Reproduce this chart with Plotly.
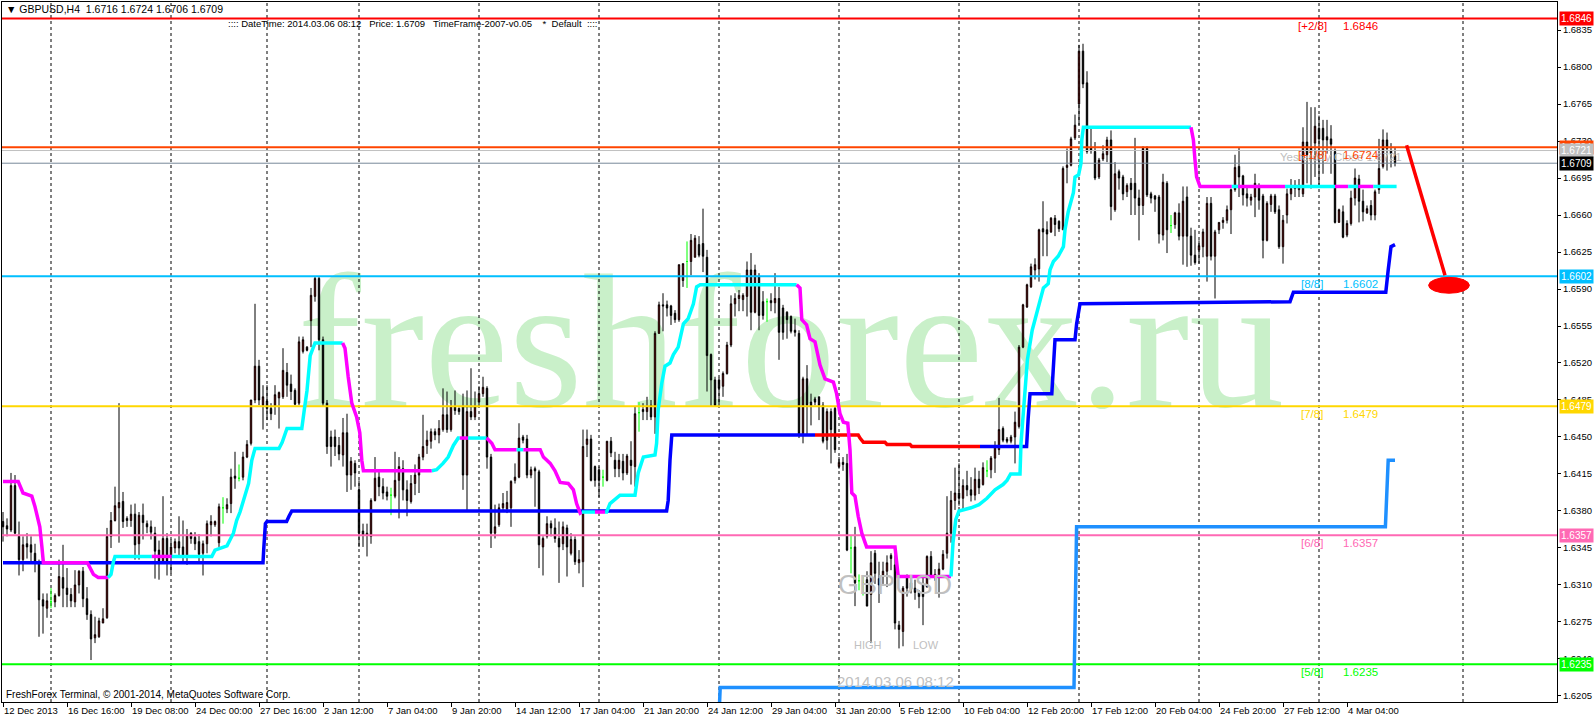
import plotly.graph_objects as go

# ---------------- DATA ----------------
opens = [
1.6370,1.6366,1.6362,1.6404,1.6356,1.6334,1.6349,1.6348,1.6340,1.6332,
1.6296,1.6288,1.6294,1.6294,1.6300,1.6317,1.6307,1.6301,1.6294,1.6310,
1.6323,1.6297,1.6282,1.6260,1.6261,1.6274,1.6279,1.6356,1.6371,1.6383,
1.6389,1.6373,1.6371,1.6377,1.6349,1.6376,1.6368,1.6365,1.6359,1.6343,
1.6332,1.6354,1.6337,1.6345,1.6351,1.6346,1.6337,1.6359,1.6355,1.6351,
1.6340,1.6349,1.6367,1.6367,1.6350,1.6383,1.6382,1.6387,1.6413,1.6411,
1.6412,1.6431,1.6444,1.6485,1.6517,1.6480,1.6484,1.6477,1.6479,1.6487,
1.6488,1.6511,1.6500,1.6494,1.6482,1.6531,1.6535,1.6560,1.6583,1.6600,
1.6542,1.6482,1.6450,1.6450,1.6442,1.6433,1.6454,1.6414,1.6425,1.6400,
1.6361,1.6357,1.6356,1.6390,1.6412,1.6403,1.6398,1.6395,1.6394,1.6409,
1.6420,1.6400,1.6389,1.6406,1.6414,1.6431,1.6442,1.6446,1.6455,1.6452,
1.6457,1.6471,1.6457,1.6479,1.6477,1.6479,1.6414,1.6474,1.6469,1.6483,
1.6491,1.6496,1.6431,1.6359,1.6367,1.6383,1.6382,1.6383,1.6409,1.6412,
1.6450,1.6448,1.6414,1.6420,1.6417,1.6346,1.6356,1.6368,1.6364,1.6354,
1.6349,1.6364,1.6340,1.6353,1.6331,1.6332,1.6443,1.6448,1.6422,1.6419,
1.6412,1.6409,1.6446,1.6428,1.6420,1.6427,1.6416,1.6428,1.6422,1.6473,
1.6476,1.6474,1.6480,1.6469,1.6548,1.6575,1.6575,1.6574,1.6567,1.6561,
1.6598,1.6616,1.6616,1.6620,1.6632,1.6633,1.6620,1.6528,1.6504,1.6504,
1.6498,1.6510,1.6537,1.6576,1.6581,1.6580,1.6583,1.6608,1.6568,1.6602,
1.6578,1.6578,1.6579,1.6577,1.6581,1.6572,1.6568,1.6564,1.6551,1.6548,
1.6453,1.6505,1.6483,1.6486,1.6488,1.6480,1.6447,1.6474,1.6477,1.6422,
1.6426,1.6425,1.6345,1.6346,1.6314,1.6312,1.6315,1.6301,1.6340,1.6316,
1.6318,1.6323,1.6338,1.6329,1.6272,1.6266,1.6318,1.6312,1.6307,1.6303,
1.6311,1.6308,1.6337,1.6318,1.6320,1.6325,1.6340,1.6359,1.6390,1.6397,
1.6392,1.6404,1.6400,1.6395,1.6410,1.6405,1.6418,1.6419,1.6430,1.6438,
1.6458,1.6448,1.6446,1.6450,1.6460,1.6535,1.6573,1.6592,1.6608,1.6609,
1.6647,1.6646,1.6644,1.6657,1.6654,1.6646,1.6705,1.6707,1.6733,1.6765,
1.6815,1.6785,1.6724,1.6720,1.6696,1.6713,1.6717,1.6731,1.6665,1.6701,
1.6696,1.6682,1.6690,1.6690,1.6676,1.6669,1.6723,1.6680,1.6678,1.6677,
1.6641,1.6690,1.6650,1.6651,1.6662,1.6640,1.6677,1.6640,1.6622,1.6627,
1.6630,1.6621,1.6671,1.6621,1.6646,1.6653,1.6655,1.6665,1.6684,1.6706,
1.6697,1.6680,1.6674,1.6677,1.6687,1.6678,1.6636,1.6670,1.6678,1.6665,
1.6630,1.6660,1.6680,1.6685,1.6684,1.6680,1.6729,1.6724,1.6728,1.6742,
1.6742,1.6734,1.6732,1.6720,1.6653,1.6663,1.6641,1.6652,1.6676,1.6694,
1.6673,1.6662,1.6669,1.6660,1.6684,1.6706,1.6731,1.6721,1.6716]

highs = [
1.6379,1.6373,1.6416,1.6414,1.6370,1.6356,1.6359,1.6356,1.6349,1.6334,
1.6302,1.6302,1.6307,1.6302,1.6334,1.6348,1.6326,1.6307,1.6324,1.6324,
1.6327,1.6308,1.6286,1.6280,1.6279,1.6288,1.6364,1.6379,1.6403,1.6482,
1.6398,1.6375,1.6386,1.6387,1.6379,1.6387,1.6371,1.6371,1.6365,1.6352,
1.6394,1.6359,1.6353,1.6354,1.6375,1.6371,1.6363,1.6360,1.6360,1.6358,
1.6352,1.6371,1.6376,1.6371,1.6387,1.6393,1.6392,1.6420,1.6436,1.6424,
1.6436,1.6447,1.6485,1.6576,1.6523,1.6499,1.6499,1.6482,1.6499,1.6493,
1.6534,1.6520,1.6509,1.6496,1.6545,1.6545,1.6536,1.6591,1.6602,1.6602,
1.6545,1.6485,1.6456,1.6457,1.6450,1.6468,1.6472,1.6431,1.6428,1.6409,
1.6368,1.6368,1.6392,1.6431,1.6419,1.6411,1.6403,1.6402,1.6436,1.6431,
1.6428,1.6409,1.6414,1.6424,1.6434,1.6471,1.6456,1.6458,1.6458,1.6466,
1.6496,1.6493,1.6485,1.6494,1.6478,1.6491,1.6494,1.6515,1.6493,1.6498,
1.6507,1.6498,1.6434,1.6386,1.6387,1.6397,1.6399,1.6409,1.6425,1.6463,
1.6452,1.6452,1.6422,1.6422,1.6419,1.6356,1.6375,1.6371,1.6373,1.6370,
1.6370,1.6367,1.6359,1.6356,1.6343,1.6457,1.6457,1.6452,1.6423,1.6422,
1.6419,1.6446,1.6450,1.6436,1.6434,1.6434,1.6434,1.6446,1.6479,1.6483,
1.6482,1.6488,1.6485,1.6550,1.6578,1.6586,1.6579,1.6575,1.6570,1.6613,
1.6614,1.6635,1.6642,1.6641,1.6640,1.6666,1.6627,1.6529,1.6507,1.6506,
1.6512,1.6540,1.6584,1.6586,1.6589,1.6586,1.6616,1.6624,1.6613,1.6605,
1.6588,1.6581,1.6586,1.6605,1.6592,1.6575,1.6569,1.6565,1.6562,1.6551,
1.6507,1.6518,1.6491,1.6488,1.6488,1.6483,1.6477,1.6477,1.6479,1.6431,
1.6431,1.6434,1.6357,1.6365,1.6320,1.6318,1.6323,1.6342,1.6343,1.6332,
1.6332,1.6338,1.6340,1.6338,1.6276,1.6309,1.6320,1.6318,1.6315,1.6305,
1.6319,1.6338,1.6342,1.6325,1.6331,1.6343,1.6394,1.6399,1.6421,1.6425,
1.6410,1.6418,1.6412,1.6421,1.6418,1.6426,1.6428,1.6432,1.6446,1.6487,
1.6460,1.6450,1.6452,1.6474,1.6537,1.6576,1.6595,1.6614,1.6619,1.6647,
1.6673,1.6654,1.6658,1.6660,1.6655,1.6706,1.6723,1.6734,1.6755,1.6821,
1.6822,1.6796,1.6742,1.6729,1.6714,1.6726,1.6734,1.6740,1.6710,1.6703,
1.6698,1.6690,1.6695,1.6733,1.6684,1.6725,1.6725,1.6682,1.6679,1.6679,
1.6699,1.6692,1.6660,1.6663,1.6671,1.6687,1.6687,1.6648,1.6646,1.6636,
1.6647,1.6677,1.6677,1.6646,1.6653,1.6658,1.6669,1.6685,1.6717,1.6724,
1.6698,1.6687,1.6680,1.6699,1.6690,1.6680,1.6673,1.6680,1.6680,1.6669,
1.6660,1.6685,1.6694,1.6693,1.6694,1.6743,1.6767,1.6762,1.6762,1.6754,
1.6750,1.6750,1.6745,1.6723,1.6666,1.6669,1.6655,1.6683,1.6704,1.6698,
1.6684,1.6669,1.6674,1.6684,1.6732,1.6741,1.6738,1.6728,1.6724]

lows = [
1.6351,1.6356,1.6360,1.6358,1.6319,1.6323,1.6335,1.6332,1.6322,1.6261,
1.6264,1.6279,1.6288,1.6289,1.6299,1.6289,1.6289,1.6289,1.6289,1.6302,
1.6289,1.6277,1.6239,1.6255,1.6260,1.6274,1.6278,1.6345,1.6370,1.6350,
1.6364,1.6365,1.6365,1.6334,1.6334,1.6353,1.6359,1.6353,1.6316,1.6315,
1.6330,1.6319,1.6321,1.6340,1.6338,1.6332,1.6329,1.6349,1.6343,1.6330,
1.6319,1.6340,1.6356,1.6365,1.6346,1.6368,1.6378,1.6378,1.6401,1.6408,
1.6409,1.6430,1.6442,1.6482,1.6480,1.6457,1.6466,1.6466,1.6471,1.6458,
1.6486,1.6488,1.6485,1.6480,1.6480,1.6529,1.6531,1.6535,1.6578,1.6532,
1.6479,1.6434,1.6422,1.6432,1.6428,1.6422,1.6398,1.6400,1.6403,1.6346,
1.6346,1.6337,1.6349,1.6389,1.6394,1.6391,1.6390,1.6376,1.6392,1.6373,
1.6390,1.6375,1.6387,1.6395,1.6397,1.6428,1.6434,1.6439,1.6447,1.6444,
1.6455,1.6454,1.6455,1.6471,1.6471,1.6400,1.6381,1.6466,1.6466,1.6479,
1.6488,1.6420,1.6345,1.6354,1.6365,1.6379,1.6378,1.6365,1.6406,1.6411,
1.6444,1.6411,1.6411,1.6384,1.6326,1.6319,1.6354,1.6356,1.6350,1.6312,
1.6343,1.6318,1.6338,1.6329,1.6321,1.6308,1.6431,1.6408,1.6403,1.6393,
1.6403,1.6408,1.6431,1.6412,1.6412,1.6409,1.6414,1.6405,1.6403,1.6455,
1.6466,1.6466,1.6466,1.6453,1.6548,1.6550,1.6564,1.6556,1.6558,1.6559,
1.6592,1.6591,1.6603,1.6620,1.6620,1.6606,1.6493,1.6479,1.6479,1.6480,
1.6488,1.6509,1.6535,1.6564,1.6569,1.6569,1.6564,1.6551,1.6567,1.6551,
1.6561,1.6559,1.6569,1.6567,1.6523,1.6542,1.6543,1.6548,1.6545,1.6449,
1.6444,1.6452,1.6461,1.6480,1.6466,1.6444,1.6438,1.6425,1.6435,1.6420,
1.6418,1.6342,1.6321,1.6290,1.6305,1.6300,1.6290,1.6255,1.6311,1.6293,
1.6311,1.6308,1.6324,1.6268,1.6250,1.6252,1.6299,1.6302,1.6296,1.6288,
1.6272,1.6308,1.6317,1.6314,1.6298,1.6324,1.6335,1.6350,1.6381,1.6385,
1.6381,1.6394,1.6389,1.6390,1.6396,1.6404,1.6412,1.6411,1.6416,1.6433,
1.6445,1.6444,1.6444,1.6425,1.6458,1.6534,1.6572,1.6591,1.6599,1.6597,
1.6621,1.6621,1.6643,1.6640,1.6644,1.6646,1.6690,1.6706,1.6731,1.6745,
1.6780,1.6718,1.6718,1.6693,1.6694,1.6711,1.6710,1.6655,1.6663,1.6684,
1.6674,1.6677,1.6660,1.6660,1.6636,1.6660,1.6677,1.6671,1.6663,1.6633,
1.6636,1.6624,1.6643,1.6647,1.6636,1.6613,1.6611,1.6612,1.6613,1.6614,
1.6620,1.6597,1.6617,1.6581,1.6642,1.6647,1.6652,1.6642,1.6682,1.6677,
1.6669,1.6668,1.6669,1.6658,1.6665,1.6619,1.6635,1.6663,1.6661,1.6628,
1.6614,1.6652,1.6674,1.6677,1.6677,1.6677,1.6690,1.6685,1.6696,1.6688,
1.6699,1.6718,1.6699,1.6652,1.6653,1.6638,1.6639,1.6650,1.6669,1.6653,
1.6654,1.6661,1.6655,1.6655,1.6680,1.6704,1.6702,1.6705,1.6706]

closes = [
1.6365,1.6363,1.6404,1.6359,1.6334,1.6348,1.6346,1.6341,1.6332,1.6296,
1.6290,1.6295,1.6294,1.6300,1.6318,1.6307,1.6301,1.6295,1.6310,1.6323,
1.6297,1.6282,1.6259,1.6263,1.6276,1.6278,1.6356,1.6371,1.6385,1.6388,
1.6370,1.6371,1.6377,1.6348,1.6376,1.6369,1.6365,1.6360,1.6342,1.6332,
1.6354,1.6332,1.6346,1.6351,1.6345,1.6337,1.6357,1.6354,1.6349,1.6339,
1.6349,1.6368,1.6370,1.6370,1.6384,1.6383,1.6386,1.6412,1.6411,1.6411,
1.6431,1.6443,1.6485,1.6517,1.6485,1.6488,1.6477,1.6472,1.6490,1.6492,
1.6513,1.6499,1.6493,1.6481,1.6540,1.6542,1.6532,1.6584,1.6600,1.6542,
1.6482,1.6441,1.6441,1.6441,1.6434,1.6454,1.6414,1.6427,1.6416,1.6359,
1.6357,1.6359,1.6390,1.6411,1.6403,1.6397,1.6394,1.6395,1.6409,1.6422,
1.6400,1.6390,1.6406,1.6414,1.6431,1.6441,1.6447,1.6455,1.6452,1.6458,
1.6471,1.6457,1.6479,1.6475,1.6474,1.6414,1.6474,1.6469,1.6479,1.6491,
1.6497,1.6431,1.6359,1.6365,1.6383,1.6387,1.6388,1.6408,1.6412,1.6449,
1.6447,1.6414,1.6419,1.6418,1.6348,1.6354,1.6368,1.6364,1.6354,1.6346,
1.6365,1.6346,1.6353,1.6332,1.6334,1.6441,1.6448,1.6409,1.6409,1.6409,
1.6412,1.6446,1.6435,1.6420,1.6428,1.6416,1.6432,1.6423,1.6472,1.6473,
1.6474,1.6479,1.6469,1.6548,1.6575,1.6574,1.6572,1.6565,1.6561,1.6613,
1.6614,1.6616,1.6636,1.6638,1.6622,1.6621,1.6527,1.6504,1.6480,1.6496,
1.6510,1.6537,1.6576,1.6581,1.6584,1.6584,1.6608,1.6568,1.6608,1.6565,
1.6565,1.6578,1.6577,1.6581,1.6549,1.6549,1.6561,1.6550,1.6549,1.6453,
1.6505,1.6480,1.6479,1.6483,1.6480,1.6446,1.6474,1.6457,1.6438,1.6426,
1.6424,1.6343,1.6345,1.6312,1.6314,1.6312,1.6290,1.6331,1.6321,1.6310,
1.6323,1.6331,1.6335,1.6274,1.6268,1.6307,1.6307,1.6306,1.6303,1.6299,
1.6299,1.6337,1.6318,1.6320,1.6325,1.6339,1.6359,1.6390,1.6397,1.6392,
1.6404,1.6400,1.6395,1.6410,1.6402,1.6421,1.6418,1.6430,1.6441,1.6457,
1.6447,1.6446,1.6450,1.6464,1.6535,1.6575,1.6594,1.6611,1.6613,1.6646,
1.6644,1.6642,1.6657,1.6651,1.6647,1.6704,1.6707,1.6732,1.6745,1.6815,
1.6784,1.6720,1.6721,1.6695,1.6712,1.6718,1.6731,1.6668,1.6699,1.6695,
1.6680,1.6688,1.6684,1.6676,1.6669,1.6723,1.6679,1.6676,1.6675,1.6642,
1.6691,1.6646,1.6650,1.6662,1.6640,1.6673,1.6640,1.6622,1.6615,1.6631,
1.6644,1.6671,1.6621,1.6644,1.6653,1.6655,1.6665,1.6684,1.6705,1.6696,
1.6679,1.6676,1.6677,1.6690,1.6674,1.6636,1.6671,1.6678,1.6663,1.6630,
1.6655,1.6680,1.6685,1.6688,1.6688,1.6729,1.6717,1.6719,1.6744,1.6732,
1.6731,1.6731,1.6727,1.6653,1.6665,1.6639,1.6652,1.6676,1.6695,1.6673,
1.6663,1.6666,1.6660,1.6682,1.6704,1.6731,1.6723,1.6718,1.6709]

x_tick_bars = [0, 16, 32, 48, 64, 80, 96, 112, 128, 144, 160, 176, 192, 208,
               224, 240, 256, 272, 288, 304, 320, 336]
x_tick_labels = ["12 Dec 2013", "16 Dec 16:00", "19 Dec 08:00", "24 Dec 00:00",
                 "27 Dec 16:00", "2 Jan 12:00", "7 Jan 04:00", "9 Jan 20:00",
                 "14 Jan 12:00", "17 Jan 04:00", "21 Jan 20:00", "24 Jan 12:00",
                 "29 Jan 04:00", "31 Jan 20:00", "5 Feb 12:00", "10 Feb 04:00",
                 "12 Feb 20:00", "17 Feb 12:00", "20 Feb 04:00", "24 Feb 20:00",
                 "27 Feb 12:00", "4 Mar 04:00"]
grid_bars = [12, 42, 66, 89, 119, 149, 179, 209, 239, 269, 299, 329, 365]

y_ticks = [1.6835, 1.6800, 1.6765, 1.6730, 1.6695, 1.6660, 1.6625, 1.6590,
           1.6555, 1.6520, 1.6485, 1.6450, 1.6415, 1.6380, 1.6345, 1.6310,
           1.6275, 1.6240, 1.6205]
y_tick_labels = ["1.6835", "1.6800", "1.6765", "1.6730", "1.6695", "1.6660",
                 "1.6625", "1.6590", "1.6555", "1.6520", "1.6485", "1.6450",
                 "1.6415", "1.6380", "1.6345", "1.6310", "1.6275", "1.6240",
                 "1.6205"]

murrey_levels = [1.6846, 1.6724, 1.6602, 1.6479, 1.6357, 1.6235]
murrey_names = ["[+2/8]", "[+1/8]", "[8/8]", "[7/8]", "[6/8]", "[5/8]"]
murrey_colors = ["#FF0000", "#FF4500", "#00BFFF", "#FFD700", "#FF69B4", "#00FF00"]
yesterday_close = 1.6721
bid_price = 1.6709

# cyan / magenta trend line vertices (bar, price)
trend_x = [0, 3.8, 5, 7.2, 8, 9.2, 9.7, 10.1, 21.1, 21.8, 22.6, 23.8, 26.3, 27, 27.6, 28,
           37.2, 42.2, 52.2, 53, 54.3, 56, 57.6, 58.4, 59.25, 60.6, 61.4, 62.2, 63, 69,
           69.8, 71, 74.7, 75.3, 76, 76.8, 78, 84.9, 85.5, 86.3, 87.2, 88.4, 89.2, 89.7,
           90.1, 107.2, 108.4, 110, 111.3, 112.6, 113.8, 114.2, 116.3, 120.9, 122.2, 123,
           128.4, 130.1, 134.3, 135.1, 136.8, 138, 139.3, 141.3, 142.6, 143.4, 144.3,
           144.7, 148, 150.5, 150.9, 151.75, 153.4, 154.25, 158, 158.8, 160.1, 163, 163.4,
           163.8, 164.7, 165.5, 166.75, 167.6, 168.8, 170.1, 171.3, 172.6, 173.4, 174.3,
           198.4, 199.25, 199.7, 200.9, 201.75, 203, 204.25, 205.5, 207.6, 208.4, 209.25,
           210.1, 211.2, 211.75, 212.2, 213, 213.8, 214.7, 215.9, 223, 223.8, 237, 237.5,
           238.2, 239, 242, 244, 246, 248, 250, 251, 251.9, 254.25, 254.5, 255.3, 256.1,
           257.3, 258.5, 259.7, 260.1, 261.3, 261.75, 262.6, 263.8, 265.1, 265.5, 266.3,
           267.6, 268, 268.9, 269.5, 269.7, 270.1, 297, 297.6, 298, 298.4, 299.25, 307.2,
           308.8, 320.5, 333, 336.3, 338.8, 342.6, 348.4]
trend_y = [1.6408, 1.6408, 1.6397, 1.6394, 1.6384, 1.6365, 1.6347, 1.6331, 1.6331, 1.6325,
           1.6320, 1.6317, 1.6317, 1.6320, 1.6332, 1.6337, 1.6337, 1.6337, 1.6337, 1.6343,
           1.6345, 1.6347, 1.6359, 1.6371, 1.6379, 1.6397, 1.6406, 1.6428, 1.6439, 1.6439,
           1.6445, 1.6458, 1.6458, 1.6475, 1.6494, 1.6527, 1.6539, 1.6539, 1.6534, 1.6507,
           1.6482, 1.6469, 1.6454, 1.6428, 1.6418, 1.6418, 1.6419, 1.6425, 1.6431, 1.6442,
           1.6449, 1.6449, 1.6449, 1.6449, 1.6444, 1.6438, 1.6438, 1.6438, 1.6438, 1.6431,
           1.6425, 1.6418, 1.6407, 1.6406, 1.6400, 1.6387, 1.6378, 1.6379, 1.6379, 1.6379,
           1.6379, 1.6387, 1.6392, 1.6395, 1.6395, 1.6416, 1.6431, 1.6433, 1.6444, 1.6476,
           1.6501, 1.6517, 1.6520, 1.6528, 1.6535, 1.6557, 1.6562, 1.6576, 1.6592, 1.6594,
           1.6594, 1.6591, 1.6561, 1.6556, 1.6543, 1.6540, 1.6518, 1.6505, 1.6502, 1.6491,
           1.6472, 1.6464, 1.6463, 1.6438, 1.6397, 1.6394, 1.6375, 1.6359, 1.6346, 1.6346,
           1.6318, 1.6318, 1.6350, 1.6372, 1.6380, 1.6383, 1.6386, 1.6392, 1.6400, 1.6405,
           1.6409, 1.6415, 1.6415, 1.6444, 1.6488, 1.6523, 1.6551, 1.6567, 1.6586, 1.6591,
           1.6595, 1.6608, 1.6616, 1.6621, 1.6630, 1.6646, 1.6663, 1.6681, 1.6696, 1.6698,
           1.6709, 1.6731, 1.6743, 1.6743, 1.6731, 1.6712, 1.6696, 1.6687, 1.6687, 1.6687,
           1.6687, 1.6687, 1.6687, 1.6687, 1.6687, 1.6687]
# spans (bar from, bar to) where the trend line is cyan; elsewhere magenta
trend_up_spans = [(26.3, 37.2), (42.2, 84.9), (107.2, 114.2), (116.3, 120.9),
                  (128.4, 130.1), (144.7, 148), (150.5, 198.4), (237, 297),
                  (307.2, 308.8), (320.5, 333), (336.3, 338.8), (342.6, 348.4)]

# lower stepped line (blue, red part in the middle)
low1_x = [0, 65, 65.2, 65.6, 66, 70.9, 71.5, 72.2, 165.9, 166.3, 166.75, 167.2, 203]
low1_y = [1.6331, 1.6331, 1.6345, 1.6368, 1.6370, 1.6370, 1.6375, 1.6380, 1.6380, 1.6390,
          1.6428, 1.6452, 1.6452]
lowr_x = [203, 213.8, 214.25, 215.1, 220.5, 221, 226.75, 227.2, 244.25]
lowr_y = [1.6452, 1.6452, 1.6449, 1.6445, 1.6445, 1.6443, 1.6443, 1.6441, 1.6441]
low2_x = [244.25, 255.9, 256.3, 256.75, 262.2, 262.6, 263, 268, 268.4, 269.25, 321.75,
          322.6, 345.7, 346.3, 347, 348]
low2_y = [1.6441, 1.6441, 1.6468, 1.6491, 1.6491, 1.6523, 1.6542, 1.6542, 1.6557, 1.6576,
          1.6578, 1.6587, 1.6587, 1.6608, 1.6630, 1.6632]

# dodger-blue stepped line
dodger_x = [178.6, 179.3, 267.75, 268.4, 345.6, 346.3, 348]
dodger_y = [1.6150, 1.6213, 1.6213, 1.6365, 1.6365, 1.6428, 1.6428]

# projection arrow + target ellipse
proj_x = [350.9, 360.5]
proj_y = [1.6726, 1.6603]
target_x = [356.4, 366.6]
target_y = [1.6586, 1.6601]

# ---------------- LAYOUT GEOMETRY ----------------
W, H = 1596, 720
ML, MR, MT, MB = 2, 39, 2, 18
PW = W - ML - MR
PH = H - MT - MB
X_RANGE = [-0.25, 388.5]
Y_RANGE = [1.61993, 1.68615]
FONT = "Liberation Sans, Arial, sans-serif"


def xpaper(px):
    return (px - ML) / PW


def ypaper(py):
    return (H - MB - py) / PH


fig = go.Figure()

bars = list(range(len(closes)))
main_idx = [i for i in bars if opens[i] != closes[i]]
doji_idx = [i for i in bars if opens[i] == closes[i]]

fig.add_trace(go.Candlestick(
    x=[bars[i] for i in main_idx],
    open=[opens[i] for i in main_idx], high=[highs[i] for i in main_idx],
    low=[lows[i] for i in main_idx], close=[closes[i] for i in main_idx],
    increasing=dict(line=dict(color="black", width=1), fillcolor="#FF0000"),
    decreasing=dict(line=dict(color="black", width=1), fillcolor="#000000"),
    whiskerwidth=0, showlegend=False, hoverinfo="skip"))
fig.add_trace(go.Candlestick(
    x=[bars[i] for i in doji_idx],
    open=[opens[i] for i in doji_idx], high=[highs[i] for i in doji_idx],
    low=[lows[i] for i in doji_idx], close=[closes[i] for i in doji_idx],
    increasing=dict(line=dict(color="#00FF00", width=1), fillcolor="#00FF00"),
    decreasing=dict(line=dict(color="#00FF00", width=1), fillcolor="#00FF00"),
    whiskerwidth=0, showlegend=False, hoverinfo="skip"))

# level lines
for lvl, col in zip(murrey_levels, murrey_colors):
    fig.add_trace(go.Scatter(x=X_RANGE, y=[lvl, lvl], mode="lines",
                             line=dict(color=col, width=2), hoverinfo="skip", showlegend=False))
fig.add_trace(go.Scatter(x=X_RANGE, y=[yesterday_close] * 2, mode="lines",
                         line=dict(color="#C0C0C0", width=1), hoverinfo="skip", showlegend=False))
fig.add_trace(go.Scatter(x=X_RANGE, y=[bid_price] * 2, mode="lines",
                         line=dict(color="#778899", width=1), hoverinfo="skip", showlegend=False))


def is_up(a, b):
    m = (a + b) / 2
    return any(s <= m <= e for s, e in trend_up_spans)


# split trend line into colored runs
runs = []
for i in range(len(trend_x) - 1):
    c = "#00FFFF" if is_up(trend_x[i], trend_x[i + 1]) else "#FF00FF"
    if runs and runs[-1][0] == c:
        runs[-1][1].append(trend_x[i + 1])
        runs[-1][2].append(trend_y[i + 1])
    else:
        runs.append([c, [trend_x[i], trend_x[i + 1]], [trend_y[i], trend_y[i + 1]]])

for xs, ys, col in [(low1_x, low1_y, "#0000FF"), (lowr_x, lowr_y, "#FF0000"),
                    (low2_x, low2_y, "#0000FF"), (dodger_x, dodger_y, "#1E90FF")]:
    fig.add_trace(go.Scatter(x=xs, y=ys, mode="lines", line=dict(color=col, width=3.5),
                             hoverinfo="skip", showlegend=False))
for c, xs, ys in runs:
    fig.add_trace(go.Scatter(x=xs, y=ys, mode="lines", line=dict(color=c, width=3.5),
                             hoverinfo="skip", showlegend=False))

fig.add_trace(go.Scatter(x=proj_x, y=proj_y, mode="lines", line=dict(color="#FF0000", width=3.5),
                         hoverinfo="skip", showlegend=False))

# ---------------- SHAPES ----------------
shapes = [dict(type="rect", xref="paper", yref="paper",
               x0=xpaper(297), x1=xpaper(1285), y0=ypaper(409), y1=ypaper(233),
               line=dict(width=0), fillcolor="rgba(0,0,0,0)", layer="below",
               label=dict(text="freshforex.ru", textposition="middle center",
                          font=dict(family="Liberation Serif, serif", size=190, color="#C9F0C9")))]
for gb in grid_bars:
    shapes.append(dict(type="line", xref="x", yref="paper", x0=gb, x1=gb, y0=0, y1=1,
                       line=dict(color="black", width=1, dash="3px,3px"), layer="below"))
shapes.append(dict(type="circle", xref="x", yref="y", x0=target_x[0], x1=target_x[1],
                   y0=target_y[0], y1=target_y[1], fillcolor="#FF0000",
                   line=dict(color="#FF0000", width=1), layer="above"))

# ---------------- ANNOTATIONS ----------------
ann = []
NB = "\u00a0"
ann.append(dict(text="\u25bc GBPUSD,H4" + NB * 2 + "1.6716 1.6724 1.6706 1.6709",
                xref="paper", yref="paper", x=xpaper(4), y=ypaper(9), xanchor="left",
                yanchor="middle", showarrow=False, font=dict(family=FONT, size=10.5, color="black")))
ann.append(dict(text="::::" + NB + "DateTime: 2014.03.06 08:12" + NB * 3 + "Price: 1.6709" + NB * 3 +
                "TimeFrame-2007-v0.05" + NB * 4 + "*" + NB * 2 + "Default" + NB * 2 + "::::",
                xref="paper", yref="paper", x=xpaper(226), y=ypaper(23), xanchor="left",
                yanchor="middle", showarrow=False, font=dict(family=FONT, size=9.5, color="black")))
ann.append(dict(text="FreshForex Terminal, \u00a9 2001-2014, MetaQuotes Software Corp.",
                xref="paper", yref="paper", x=xpaper(4), y=ypaper(694), xanchor="left",
                yanchor="middle", showarrow=False, font=dict(family=FONT, size=10, color="black")))

# yesterday close text
ann.append(dict(text="Yesterday Close 1.6721", xref="paper", yref="y", x=xpaper(1278),
                y=yesterday_close, yshift=-6, xanchor="left", yanchor="middle", showarrow=False,
                font=dict(family=FONT, size=11.5, color="#C0C0C0")))
# murrey labels
for lvl, name, col in zip(murrey_levels, murrey_names, murrey_colors):
    ann.append(dict(text=name, xref="paper", yref="y", x=xpaper(1312), y=lvl, yshift=-8,
                    xanchor="center", yanchor="middle", showarrow=False,
                    font=dict(family=FONT, size=11.5, color=col)))
    ann.append(dict(text=f"{lvl:.4f}", xref="paper", yref="y", x=xpaper(1341), y=lvl, yshift=-8,
                    xanchor="left", yanchor="middle", showarrow=False,
                    font=dict(family=FONT, size=11.5, color=col)))

# gray overlay texts
ann.append(dict(text="GBPUSD", xref="paper", yref="paper", x=xpaper(895), y=ypaper(585),
                xanchor="center", yanchor="middle", showarrow=False,
                font=dict(family=FONT, size=27, color="#C0C0C0")))
ann.append(dict(text="HIGH", xref="paper", yref="paper", x=xpaper(868), y=ypaper(645),
                xanchor="center", yanchor="middle", showarrow=False,
                font=dict(family=FONT, size=11, color="#C0C0C0")))
ann.append(dict(text="LOW", xref="paper", yref="paper", x=xpaper(926), y=ypaper(645),
                xanchor="center", yanchor="middle", showarrow=False,
                font=dict(family=FONT, size=11, color="#C0C0C0")))
ann.append(dict(text="2014.03.06 08:12", xref="paper", yref="paper", x=xpaper(896), y=ypaper(681),
                xanchor="center", yanchor="middle", showarrow=False,
                font=dict(family=FONT, size=15, color="#C0C0C0")))

# right-axis price boxes
box_levels = [murrey_levels[0], murrey_levels[1], yesterday_close, bid_price] + murrey_levels[2:]
box_colors = [murrey_colors[0], murrey_colors[1], "#C0C0C0", "#000000"] + murrey_colors[2:]
for lvl, col in zip(box_levels, box_colors):
    ann.append(dict(text=f"{lvl:.4f}", xref="paper", yref="y", x=xpaper(1559), y=lvl,
                    xanchor="left", yanchor="middle", showarrow=False, bgcolor=col,
                    borderpad=1, font=dict(family=FONT, size=10, color="white")))

fig.update_layout(
    width=W, height=H, margin=dict(l=ML, r=MR, t=MT, b=MB, autoexpand=False),
    paper_bgcolor="white", plot_bgcolor="white", showlegend=False,
    hovermode=False, boxgap=0.5, shapes=shapes, annotations=ann,
    xaxis=dict(range=X_RANGE, showgrid=False, zeroline=False, showline=True, mirror=True,
               linecolor="black", linewidth=1, tickvals=x_tick_bars, ticktext=x_tick_labels,
               ticks="outside", ticklen=4, tickcolor="black", ticklabelposition="outside right",
               tickangle=0, automargin=False,
               tickfont=dict(family=FONT, size=9.5, color="black"),
               rangeslider=dict(visible=False), fixedrange=True),
    yaxis=dict(range=Y_RANGE, side="right", showgrid=False, zeroline=False, showline=True,
               mirror=True, linecolor="black", linewidth=1, tickvals=y_ticks, automargin=False,
               ticktext=y_tick_labels, ticks="outside", ticklen=3, tickcolor="black",
               tickfont=dict(family=FONT, size=9.5, color="black"), fixedrange=True),
)

fig.write_html("out.html", config={"displayModeBar": False},
               post_script="document.body.style.margin='0';document.body.style.overflow='hidden';")
